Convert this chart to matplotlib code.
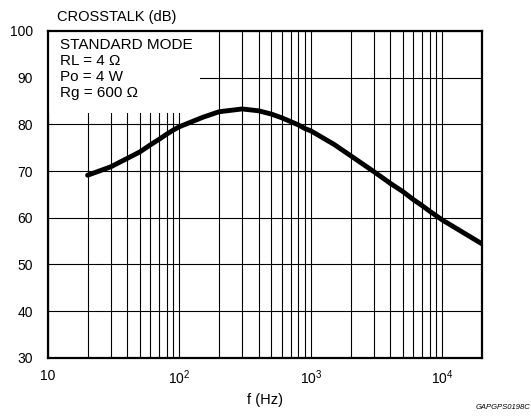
import matplotlib
matplotlib.use("Agg")
import matplotlib.pyplot as plt
from matplotlib.patches import Rectangle
from matplotlib.ticker import FixedLocator, FixedFormatter, NullFormatter

plt.rcParams['font.family'] = ['Liberation Sans', 'DejaVu Sans']
plt.rcParams['mathtext.fontset'] = 'custom'
plt.rcParams['mathtext.rm'] = 'Liberation Sans'
plt.rcParams['mathtext.default'] = 'rm'

# crosstalk vs frequency at the grid lines
freq = [20, 30, 40, 50, 60, 70, 80, 90, 100, 150, 200, 300, 400, 500, 600, 700, 800, 900,
        1000, 1500, 2000, 3000, 4000, 5000, 6000, 7000, 8000, 9000, 10000, 20000]
crosstalk = [69.1, 70.9, 72.7, 74.1, 75.6, 76.8, 77.9, 78.8, 79.5, 81.5, 82.7, 83.3, 82.9,
             82.2, 81.4, 80.6, 79.9, 79.1, 78.6, 75.7, 73.3, 69.9, 67.4, 65.6, 63.9,
             62.6, 61.4, 60.4, 59.5, 54.4]

x_ticks = [10, 100, 1000, 10000]
x_labels = ['10', '$10^{2}$', '$10^{3}$', '$10^{4}$']
y_ticks = [30, 40, 50, 60, 70, 80, 90, 100]
minor_x = [m * d for d in (10, 100, 1000) for m in range(2, 10)] + [20000]

conditions = "STANDARD MODE\nRL = 4 \u03a9\nPo = 4 W\nRg = 600 \u03a9"

fig = plt.figure(figsize=(5.31, 4.16), dpi=100)
ax = fig.add_axes([0.0904, 0.14, 0.8173, 0.7855])

ax.plot(freq, crosstalk, color='black', lw=3.5, solid_capstyle='round',
        solid_joinstyle='round', zorder=3)

ax.set_xscale('log')
ax.set_xlim(10, 20000)
ax.set_ylim(30, 100)
ax.xaxis.set_major_locator(FixedLocator(x_ticks))
ax.xaxis.set_major_formatter(FixedFormatter(x_labels))
ax.xaxis.set_minor_locator(FixedLocator(minor_x))
ax.xaxis.set_minor_formatter(NullFormatter())
ax.set_yticks(y_ticks)

ax.set_axisbelow(True)
ax.grid(True, which='both', color='black', lw=0.8)
ax.tick_params(which='both', length=0, labelsize=10, pad=8)
ax.tick_params(axis='y', pad=11)
for s in ax.spines.values():
    s.set_linewidth(1.6)

# white box behind the conditions text
ax.add_patch(Rectangle((0, 0.75), 0.35, 0.25, transform=ax.transAxes,
                       facecolor='white', edgecolor='none', zorder=1))
ax.text(0.028, 0.98, conditions, transform=ax.transAxes, ha='left', va='top',
        fontsize=11, linespacing=1.2, zorder=4)

fig.text(0.107, 0.958, "CROSSTALK (dB)", fontsize=10.5, ha='left', va='center')
ax.set_xlabel("f (Hz)", fontsize=10.5, labelpad=4)
fig.text(0.895, 0.012, "GAPGPS0198C", fontsize=5.5, style='italic', ha='left', va='bottom')

fig.savefig("out.png", dpi=100)
